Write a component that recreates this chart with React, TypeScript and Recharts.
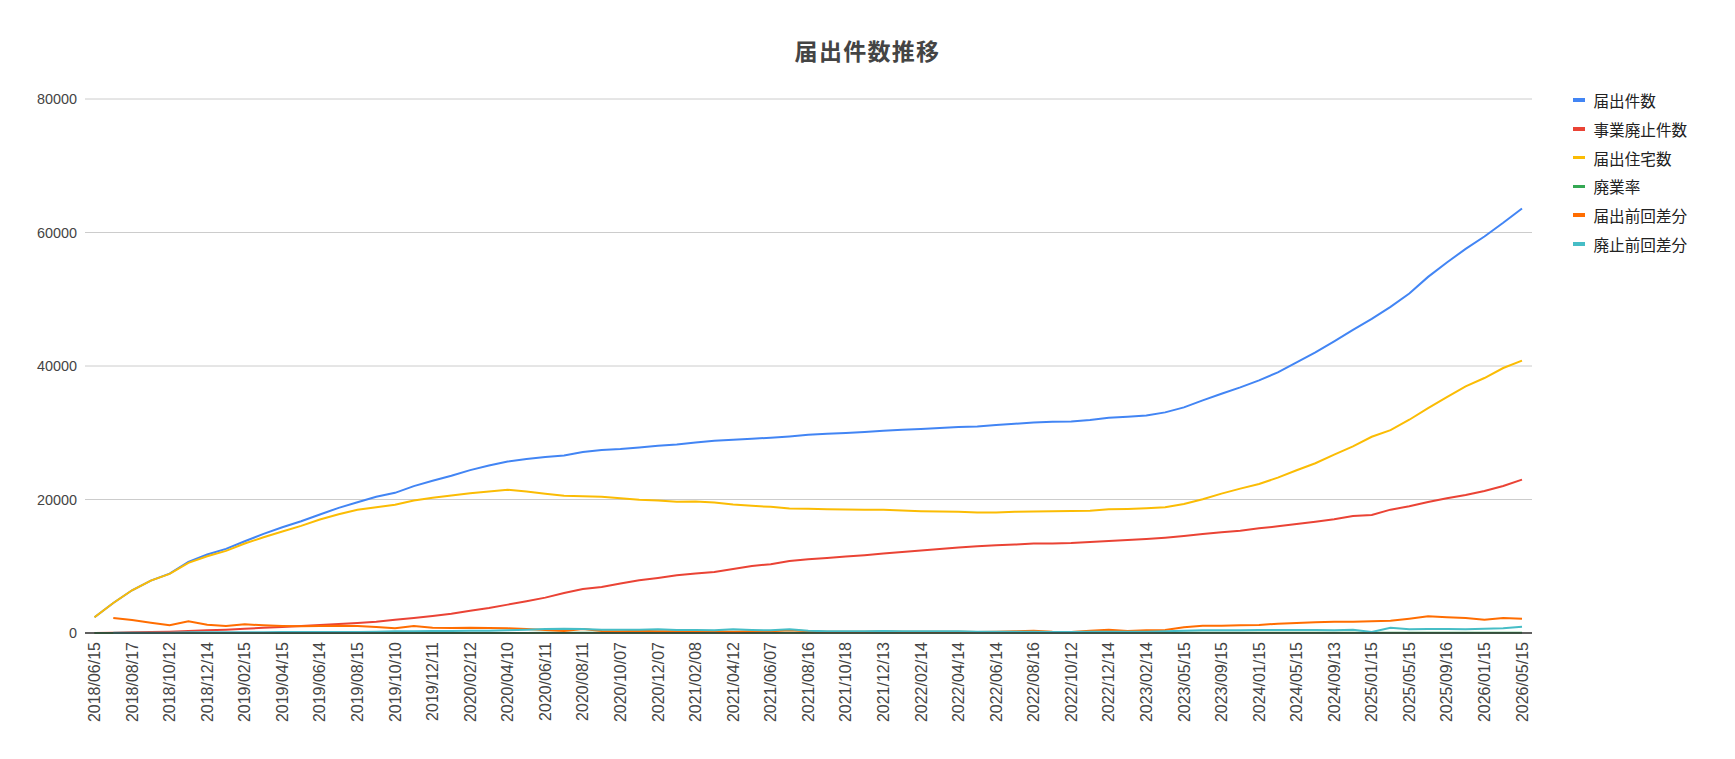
import { LineChart, Line, XAxis, YAxis, CartesianGrid } from "recharts";

// 掲載日（横軸のカテゴリ）
const DATES = [
    "2018/06/15", "2018/07/13", "2018/08/17", "2018/09/14", "2018/10/12", "2018/11/15", "2018/12/14",
    "2019/01/16", "2019/02/15", "2019/03/15", "2019/04/15", "2019/05/17", "2019/06/14", "2019/07/12",
    "2019/08/15", "2019/09/13", "2019/10/10", "2019/11/15", "2019/12/11", "2020/01/15", "2020/02/12",
    "2020/03/13", "2020/04/10", "2020/05/15", "2020/06/11", "2020/07/15", "2020/08/11", "2020/09/15",
    "2020/10/07", "2020/11/13", "2020/12/07", "2021/01/15", "2021/02/08", "2021/03/15", "2021/04/12",
    "2021/05/14", "2021/06/07", "2021/07/15", "2021/08/16", "2021/09/15", "2021/10/18", "2021/11/15",
    "2021/12/13", "2022/01/14", "2022/02/14", "2022/03/15", "2022/04/14", "2022/05/16", "2022/06/14",
    "2022/07/15", "2022/08/16", "2022/09/15", "2022/10/12", "2022/11/15", "2022/12/14", "2023/01/16",
    "2023/02/14", "2023/03/15", "2023/05/15", "2023/07/14", "2023/09/15", "2023/11/15", "2024/01/15",
    "2024/03/15", "2024/05/15", "2024/07/12", "2024/09/13", "2024/11/15", "2025/01/15", "2025/03/14",
    "2025/05/15", "2025/07/15", "2025/09/16", "2025/11/14", "2026/01/15", "2026/03/13", "2026/05/15",
];

// 届出件数
const FILINGS = [
    2350, 4500, 6400, 7850, 8900, 10650, 11750, 12600, 13750, 14850, 15850, 16750, 17750, 18750, 19600,
    20400, 21000, 22000, 22800, 23550, 24400, 25100, 25700, 26050, 26350, 26600, 27100, 27400, 27550,
    27800, 28050, 28250, 28550, 28800, 28950, 29100, 29250, 29450, 29700, 29850, 29950, 30100, 30300,
    30450, 30550, 30700, 30850, 30950, 31150, 31350, 31550, 31650, 31700, 31900, 32250, 32400, 32600,
    33050, 33800, 34850, 35850, 36800, 37850, 39050, 40550, 42050, 43700, 45400, 47050, 48850, 50850,
    53350, 55500, 57550, 59400, 61450, 63600,
];

// 事業廃止件数
const CLOSURES = [
    0, 50, 100, 150, 200, 300, 400, 500, 650, 780, 900, 1050, 1200, 1350, 1500, 1700, 2000, 2250, 2550,
    2900, 3350, 3750, 4250, 4750, 5300, 6000, 6600, 6900, 7400, 7900, 8250, 8650, 8900, 9150, 9600,
    10050, 10300, 10800, 11050, 11250, 11450, 11650, 11900, 12150, 12350, 12600, 12800, 13000, 13150,
    13250, 13400, 13400, 13480, 13630, 13780, 13930, 14080, 14280, 14530, 14830, 15080, 15330, 15680,
    15980, 16330, 16680, 17030, 17530, 17680, 18480, 18980, 19630, 20180, 20680, 21280, 22030, 22980,
];

// 届出住宅数
const HOUSES = [
    2350, 4500, 6400, 7850, 8850, 10500, 11500, 12300, 13400, 14350, 15200, 16050, 17000, 17800, 18450,
    18850, 19200, 19850, 20250, 20600, 20950, 21200, 21450, 21200, 20850, 20550, 20500, 20400, 20200,
    19950, 19850, 19650, 19700, 19550, 19250, 19050, 18900, 18650, 18600, 18550, 18500, 18450, 18450,
    18350, 18250, 18200, 18150, 18050, 18050, 18150, 18200, 18250, 18280, 18330, 18530, 18580, 18680,
    18830, 19330, 20030, 20880, 21630, 22330, 23280, 24380, 25430, 26730, 27950, 29400, 30400, 31950,
    33700, 35350, 36950, 38200, 39700, 40800,
];

// 廃業率（%）
const CLOSURE_RATE = [
    0, 1.1, 1.6, 1.9, 2.2, 2.8, 3.4, 4.0, 4.7, 5.3, 5.7, 6.3, 6.8, 7.2, 7.7, 8.3, 9.5, 10.2, 11.2, 12.3,
    13.7, 14.9, 16.5, 18.2, 20.1, 22.6, 24.4, 25.2, 26.9, 28.4, 29.4, 30.6, 31.2, 31.8, 33.2, 34.5, 35.2,
    36.7, 37.2, 37.7, 38.2, 38.7, 39.3, 39.9, 40.4, 41.0, 41.5, 42.0, 42.2, 42.3, 42.5, 42.3, 42.5, 42.7,
    42.7, 43.0, 43.2, 43.2, 43.0, 42.6, 42.1, 41.7, 41.4, 40.9, 40.3, 39.7, 39.0, 38.6, 37.6, 37.8, 37.3,
    36.8, 36.4, 35.9, 35.8, 35.8, 36.1,
];

// 届出前回差分
const FILING_DIFF = [
    null, 2250, 1950, 1550, 1150, 1750, 1250, 1050, 1300, 1150, 1050, 1000, 1050, 1100, 1050, 900, 700,
    1050, 800, 750, 800, 750, 700, 600, 450, 300, 600, 300, 250, 350, 250, 250, 300, 250, 200, 250, 250,
    400, 250, 200, 200, 200, 250, 200, 200, 200, 200, 150, 200, 250, 350, 200, 150, 350, 500, 300, 400,
    450, 850, 1100, 1100, 1150, 1200, 1400, 1500, 1600, 1700, 1700, 1750, 1850, 2150, 2500, 2350, 2250,
    2000, 2250, 2150,
];

// 廃止前回差分
const CLOSURE_DIFF = [
    null, 50, 50, 50, 50, 100, 100, 100, 100, 130, 150, 150, 150, 150, 150, 200, 250, 250, 300, 300, 350,
    350, 400, 500, 600, 650, 600, 500, 500, 500, 550, 450, 450, 400, 550, 450, 400, 550, 350, 250, 250,
    250, 300, 250, 250, 250, 250, 200, 200, 200, 200, 150, 150, 200, 200, 200, 200, 250, 350, 400, 400,
    400, 450, 450, 450, 450, 400, 500, 150, 800, 550, 600, 600, 550, 650, 700, 950,
];

const Y_TICKS = [0, 20000, 40000, 60000, 80000];

const SERIES = [
    { key: "filings", name: "届出件数", color: "#4285F4", values: FILINGS },
    { key: "closures", name: "事業廃止件数", color: "#EA4335", values: CLOSURES },
    { key: "houses", name: "届出住宅数", color: "#FBBC04", values: HOUSES },
    { key: "rate", name: "廃業率", color: "#34A853", values: CLOSURE_RATE },
    { key: "filingDiff", name: "届出前回差分", color: "#FF6D01", values: FILING_DIFF },
    { key: "closureDiff", name: "廃止前回差分", color: "#46BDC6", values: CLOSURE_DIFF },
];

const data = DATES.map((date, i) => {
    const row: Record<string, string | number | null> = { date };
    SERIES.forEach((s) => {
        row[s.key] = s.values[i];
    });
    return row;
});

const FONT = "Arial, 'Liberation Sans', 'Noto Sans CJK JP', sans-serif";

function DateTick({ x, y, payload }: any) {
    return (
        <text
            x={x}
            y={y}
            transform={`rotate(-90, ${x}, ${y})`}
            textAnchor="end"
            dy="0.35em"
            fill="#444"
            fontSize={16}
            fontFamily={FONT}
        >
            {payload.value}
        </text>
    );
}

export default function App() {
    return (
        <div style={{ position: "relative", width: 1735, height: 759, background: "#fff", fontFamily: FONT }}>
            <style>{`body { margin: 0; }`}</style>

            <div
                style={{
                    position: "absolute",
                    top: 40,
                    left: 0,
                    width: 1735,
                    textAlign: "center",
                    fontSize: 23,
                    lineHeight: "24px",
                    fontWeight: "bold",
                    letterSpacing: 1.3,
                    color: "#444",
                }}
            >
                届出件数推移
            </div>

            <LineChart width={1735} height={759} data={data} margin={{ top: 99, right: 203, left: 0, bottom: 0 }}>
                <CartesianGrid vertical={false} stroke="#ccc" />
                <XAxis
                    dataKey="date"
                    interval={1}
                    height={126}
                    tickLine={false}
                    tickSize={0}
                    tickMargin={9}
                    axisLine={{ stroke: "#333", strokeWidth: 1.5 }}
                    padding={{ left: 9.5, right: 10 }}
                    tick={<DateTick />}
                />
                <YAxis
                    domain={[0, 80000]}
                    ticks={Y_TICKS}
                    width={85}
                    axisLine={false}
                    tickLine={false}
                    tickSize={0}
                    tickMargin={8}
                    tick={{ fill: "#444", fontSize: 14.4, fontFamily: FONT }}
                />
                {SERIES.map((s) => (
                    <Line
                        key={s.key}
                        type="linear"
                        dataKey={s.key}
                        name={s.name}
                        stroke={s.color}
                        strokeWidth={2}
                        dot={false}
                        isAnimationActive={false}
                    />
                ))}
            </LineChart>

            <div style={{ position: "absolute", left: 1573, top: 85.6 }}>
                {SERIES.map((s) => (
                    <div key={s.key} style={{ display: "flex", alignItems: "center", height: 28.8 }}>
                        <span style={{ width: 12, height: 3.5, background: s.color, marginRight: 8.5 }} />
                        <span style={{ fontSize: 15.6, color: "#222" }}>{s.name}</span>
                    </div>
                ))}
            </div>
        </div>
    );
}
